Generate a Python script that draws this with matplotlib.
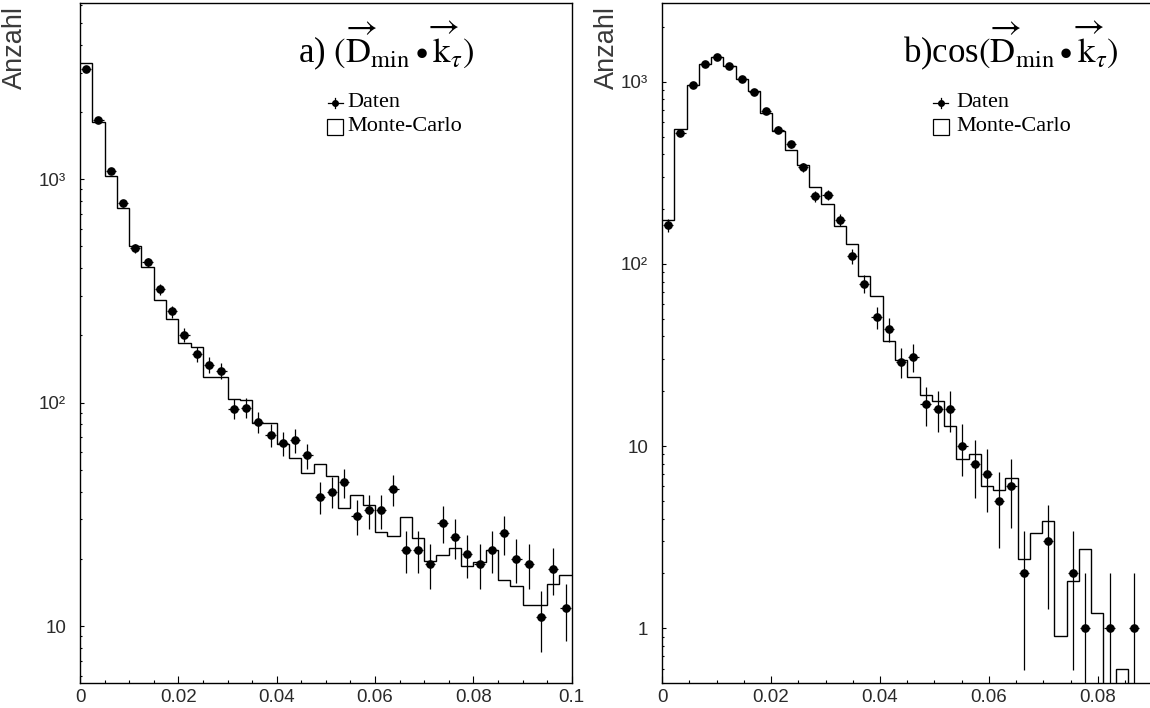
import numpy as np
import matplotlib
matplotlib.use('Agg')
import matplotlib.pyplot as plt
from matplotlib.patches import Rectangle
from matplotlib.ticker import MultipleLocator, LogLocator, NullFormatter

plt.rcParams['mathtext.fontset'] = 'stix'

# ---------------- data ----------------
nbins = 40
a_range = (0.0, 0.1)
b_range = (0.0, 0.09)

a_data = [3100, 1833, 1087, 782, 490, 424, 322, 256, 201, 165,
          148, 139, 94, 95, 82, 72, 66, 68, 58, 38,
          40, 44, 31, 33, 33, 41, 22, 22, 19, 29,
          25, 21, 19, 22, 26, 20, 19, 11, 18, 12]
a_mc = [3310, 1800, 1035, 745, 503, 404, 288, 238, 185, 178,
        130, 130, 104, 103, 81, 81, 65, 56.4, 48.6, 53,
        47, 33.7, 38.5, 34.9, 26.4, 25.3, 30.8, 24.7, 19.6, 20.8,
        22.3, 18.6, 19.4, 22.0, 16.1, 15.1, 12.4, 12.4, 15.4, 16.9]

b_data = [163, 525, 955, 1256, 1365, 1218, 1038, 885, 693, 547,
          454, 340, 235, 239, 174, 110, 78, 51, 44, 29,
          31, 17, 16, 16, 10, 8, 7, 5, 6, 2,
          0, 3, 0, 2, 1, 0, 1, 0, 1, 0]
b_mc = [175, 552, 963, 1256, 1365, 1218, 1040, 896, 672, 538,
        425, 351, 265, 214, 162, 128, 85.5, 66.4, 37.9, 29.8,
        23.9, 19.1, 17.6, 12.9, 8.5, 9.1, 6.05, 5.75, 6.67, 2.39,
        3.33, 3.9, 0.91, 1.82, 2.72, 1.21, 0, 0.6, 0, 0]

a_xticks = [0, 0.02, 0.04, 0.06, 0.08, 0.1]
a_xticklabels = ['0', '0.02', '0.04', '0.06', '0.08', '0.1']
a_yticks = [10, 100, 1000]
a_yticklabels = ['10', '10\u00b2', '10\u00b3']
a_ylim = (5.56, 6150)

b_xticks = [0, 0.02, 0.04, 0.06, 0.08]
b_xticklabels = ['0', '0.02', '0.04', '0.06', '0.08']
b_yticks = [1, 10, 100, 1000]
b_yticklabels = ['1', '10', '10\u00b2', '10\u00b3']
b_ylim = (0.5, 2710)

a_prefix = 'a) '
b_prefix = 'b)cos'
math_part = r'$(\overrightarrow{\mathrm{D}}_{\mathrm{min}}\bullet\overrightarrow{\mathrm{k}}_{\tau})$'
ylabel = 'Anzahl'
leg_data = 'Daten'
leg_mc = 'Monte-Carlo'

SANS = 'Liberation Sans'
SERIF = 'Liberation Serif'
LABEL_COLOR = '#2a2a2a'

W, H = 1150, 708
fig = plt.figure(figsize=(W / 100, H / 100), dpi=100)
fig.patch.set_facecolor('white')


def px_ax(x0, x1, y0, y1):
    return [x0 / W, 1 - y1 / H, (x1 - x0) / W, (y1 - y0) / H]


def draw(ax, data, mc, xr, ylim, xticks, xlabels, yticks, ylabels,
         prefix, title_x, leg_x_marker, leg_x_text):
    edges = np.linspace(xr[0], xr[1], nbins + 1)
    centers = 0.5 * (edges[:-1] + edges[1:])
    bw = edges[1] - edges[0]
    ax.set_yscale('log', nonpositive='clip')
    ax.stairs(mc, edges, baseline=None, color='black', lw=1.0)
    d = np.asarray(data, float)
    m = d > 0
    ax.errorbar(centers[m], d[m], yerr=np.sqrt(d[m]), xerr=0.42 * bw,
                fmt='o', ms=5.2, color='black', ecolor='black',
                elinewidth=0.9, capsize=0)
    ax.set_xlim(*xr)
    ax.set_ylim(*ylim)

    ax.set_xticks(xticks, xlabels)
    ax.xaxis.set_minor_locator(MultipleLocator(0.005))
    ax.set_yticks(yticks, ylabels)
    ax.yaxis.set_minor_locator(LogLocator(base=10, subs=range(2, 10)))
    ax.yaxis.set_minor_formatter(NullFormatter())
    ax.tick_params(axis='x', which='major', direction='in', length=5,
                   width=0.8, pad=4, labelsize=13.5)
    ax.tick_params(axis='x', which='minor', direction='in', length=2.5, width=0.8)
    ax.tick_params(axis='y', which='major', direction='in', length=3,
                   width=0.8, pad=10, labelsize=13.5)
    ax.tick_params(axis='y', which='minor', direction='in', length=1.6, width=0.8)
    for lab in ax.get_xticklabels() + ax.get_yticklabels():
        lab.set_family(SANS)
        lab.set_color(LABEL_COLOR)
    for s in ax.spines.values():
        s.set_linewidth(1.0)

    # title
    ax.text(title_x, 0.912, prefix + math_part, transform=ax.transAxes,
            ha='left', va='baseline', fontsize=25, family=SERIF)

    # legend
    tr = ax.transAxes
    y1, y2 = 0.853, 0.818
    dx = 7.5 / ax.bbox.width
    dy = 5.0 / ax.bbox.height
    ax.plot([leg_x_marker - dx, leg_x_marker + dx], [y1, y1], color='black',
            lw=0.9, transform=tr, clip_on=False)
    ax.plot([leg_x_marker, leg_x_marker], [y1 - dy, y1 + dy], color='black',
            lw=0.9, transform=tr, clip_on=False)
    ax.plot([leg_x_marker], [y1], 'o', ms=4.0, color='black', transform=tr,
            clip_on=False)
    bw_ax = 16 / ax.bbox.width
    bh_ax = 16 / ax.bbox.height
    ax.add_patch(Rectangle((leg_x_marker - bw_ax / 2, y2 - bh_ax / 2), bw_ax, bh_ax,
                           transform=tr, fill=False, lw=0.9, edgecolor='black'))
    ax.text(leg_x_text, y1, leg_data, transform=tr, ha='left', va='center',
            fontsize=16, family=SERIF)
    ax.text(leg_x_text, y2, leg_mc, transform=tr, ha='left', va='center',
            fontsize=16, family=SERIF)


ax1 = fig.add_axes(px_ax(80, 571.7, 3, 683))
ax2 = fig.add_axes(px_ax(662, 1152.5, 3, 683))

draw(ax1, a_data, a_mc, a_range, a_ylim, a_xticks, a_xticklabels,
     a_yticks, a_yticklabels, a_prefix, 0.443,
     (335 - 80) / 491.7, (347 - 80) / 491.7)
draw(ax2, b_data, b_mc, b_range, b_ylim, b_xticks, b_xticklabels,
     b_yticks, b_yticklabels, b_prefix, 0.491,
     (941 - 662) / 490.5, (956 - 662) / 490.5)

for xpix in (15, 607):
    fig.text(xpix / W, 1 - 6 / H, ylabel, rotation=90, ha='center', va='top',
             fontsize=19.5, family=SANS, color='#3a3a3a')

fig.savefig('out.png', dpi=100, facecolor='white')
